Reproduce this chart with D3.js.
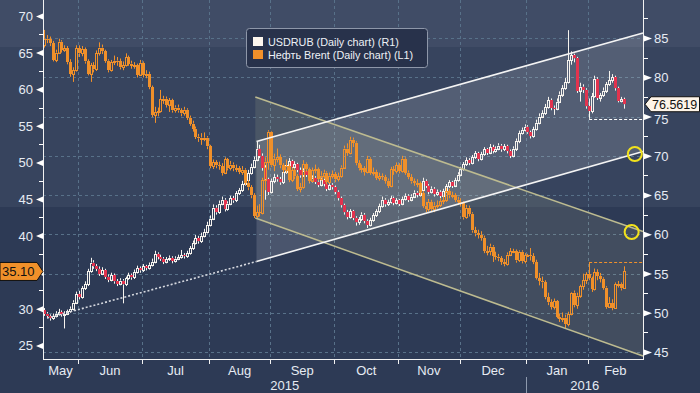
<!DOCTYPE html>
<html>
<head>
<meta charset="utf-8">
<script src="https://cdn.jsdelivr.net/npm/d3@7/dist/d3.min.js"></script>
<style>
  html, body { margin: 0; padding: 0; background: #2d3a55; }
  svg { display: block; font-family: "Liberation Sans", Arial, sans-serif; }
</style>
</head>
<body>
<svg id="chart" width="700" height="393"></svg>
<script>
// ---- data: daily candles, open = previous close ----
const brentFirstOpen = 66.0;
const brentClose = [
  66.9, 66.8, 66.3, 64.0, 65.0, 66.5, 65.4, 65.6, 63.7, 62.1,
  62.6, 65.6, 64.9, 65.5, 63.8, 62.1, 63.3, 62.7, 64.9, 65.7,
  65.2, 63.9, 62.6, 63.7, 63.9, 63.8, 63.0, 63.3, 64.4, 63.5,
  63.2, 63.3, 62.0, 63.6, 62.0, 62.1, 60.3, 56.5, 56.9, 57.0,
  58.6, 58.7, 57.9, 58.5, 57.1, 57.5, 57.1, 56.7, 57.2, 56.1,
  55.3, 54.6, 53.5, 53.3, 53.4, 53.4, 52.2, 49.5, 50.0, 49.6,
  49.5, 48.6, 50.4, 49.2, 49.7, 49.2, 49.2, 48.7, 49.0, 47.2,
  46.6, 45.5, 42.7, 43.2, 43.1, 47.6, 50.1, 54.2, 49.6, 50.5,
  50.7, 49.6, 49.0, 49.5, 47.6, 48.9, 48.1, 46.4, 46.6, 49.8,
  49.1, 47.5, 48.9, 49.1, 47.8, 48.2, 48.6, 47.3, 48.2, 48.4,
  47.7, 48.1, 49.3, 51.9, 51.3, 53.1, 52.7, 49.9, 49.2, 49.2,
  48.7, 50.5, 48.6, 48.7, 47.9, 48.1, 48.0, 47.5, 46.8, 49.1,
  48.8, 49.6, 48.8, 50.5, 48.6, 48.0, 47.4, 47.2, 47.2, 45.8,
  44.1, 43.6, 44.6, 43.6, 44.1, 44.2, 44.7, 44.8, 46.1, 45.5,
  45.5, 44.9, 44.6, 44.4, 42.5, 43.8, 43.0, 40.7, 40.3, 40.1,
  39.7, 37.9, 37.9, 38.5, 37.2, 37.1, 36.9, 36.4, 36.1, 37.4,
  37.9, 37.9, 36.6, 37.8, 36.5, 37.3, 37.3, 37.2, 36.4, 34.2,
  33.8, 33.6, 31.6, 30.9, 30.3, 31.0, 28.9, 28.6, 28.8, 27.9,
  29.3, 32.2, 30.5, 31.8, 33.1, 33.9, 34.7, 34.2, 32.7, 35.0,
  34.5, 34.1, 32.9, 30.3, 30.8, 30.1, 33.4, 33.4, 32.8, 35.1
];
const brentHigh = [
  68.1, 67.4, 67.2, 66.6, 65.4, 66.9, 66.7, 66.0, 65.9, 64.1,
  63.0, 66.0, 66.0, 65.9, 65.7, 64.1, 63.6, 63.7, 65.3, 66.4,
  66.1, 65.4, 64.1, 64.0, 64.6, 64.4, 64.2, 63.8, 64.9, 64.6,
  63.9, 63.7, 63.5, 64.0, 63.8, 62.6, 62.4, 60.5, 57.6, 57.5,
  59.9, 59.1, 59.0, 58.8, 58.7, 57.8, 57.9, 57.4, 57.6, 57.4,
  56.4, 55.7, 54.9, 53.9, 54.0, 54.1, 53.6, 52.4, 50.4, 50.3,
  50.1, 49.9, 50.7, 50.6, 50.2, 50.0, 49.7, 49.5, 49.5, 49.2,
  47.6, 46.9, 45.8, 44.1, 44.3, 47.9, 50.7, 54.4, 54.3, 51.2,
  51.9, 51.1, 49.9, 50.4, 49.8, 49.3, 49.2, 48.4, 47.2, 50.3,
  50.0, 49.3, 49.3, 49.7, 49.3, 48.8, 49.0, 48.8, 48.6, 48.9,
  48.7, 48.6, 49.6, 52.3, 52.6, 53.5, 53.4, 52.9, 50.3, 49.7,
  49.5, 50.9, 50.7, 49.3, 49.0, 48.6, 48.5, 48.3, 47.8, 49.4,
  49.5, 50.0, 49.9, 50.9, 50.7, 48.9, 48.4, 47.8, 47.7, 47.4,
  46.1, 44.6, 45.0, 44.9, 44.6, 44.8, 45.1, 45.4, 46.5, 46.4,
  46.0, 45.8, 45.3, 45.1, 44.7, 44.2, 44.1, 43.2, 41.2, 40.8,
  40.6, 40.0, 38.6, 38.9, 38.7, 37.8, 37.5, 37.2, 36.8, 37.7,
  38.3, 38.2, 38.1, 38.0, 38.0, 37.6, 37.5, 38.3, 37.6, 36.7,
  34.9, 34.4, 33.9, 32.2, 31.3, 31.4, 31.2, 29.3, 29.5, 29.2,
  29.6, 32.3, 32.5, 32.2, 33.3, 34.8, 35.0, 36.4, 34.4, 35.5,
  35.4, 34.9, 34.3, 33.1, 31.6, 31.3, 33.6, 33.8, 33.6, 35.8
];
const brentLow = [
  65.7, 66.3, 65.9, 63.8, 63.7, 64.8, 65.0, 65.1, 63.4, 61.7,
  61.0, 62.4, 64.4, 64.5, 63.5, 61.9, 61.0, 62.3, 62.5, 64.6,
  64.8, 63.6, 62.3, 62.4, 63.3, 63.2, 62.7, 62.6, 63.1, 63.2,
  62.8, 62.8, 61.6, 61.8, 61.6, 61.5, 60.0, 56.2, 55.4, 56.3,
  56.8, 58.0, 57.5, 56.9, 56.8, 56.8, 56.8, 56.3, 56.4, 55.8,
  55.0, 54.2, 53.2, 52.8, 52.4, 52.9, 51.8, 49.2, 49.1, 49.2,
  49.0, 48.2, 48.4, 48.9, 48.9, 48.8, 48.7, 48.4, 48.3, 46.9,
  46.2, 45.1, 42.4, 42.3, 42.6, 42.9, 46.2, 49.0, 49.4, 48.8,
  50.0, 49.2, 48.6, 48.6, 47.3, 47.3, 47.7, 46.1, 45.9, 46.4,
  48.7, 47.2, 47.3, 48.5, 47.5, 47.5, 47.8, 47.0, 47.1, 47.8,
  47.3, 47.4, 47.9, 49.1, 50.9, 51.1, 52.1, 49.6, 48.9, 48.6,
  48.2, 48.5, 48.3, 48.2, 47.6, 47.5, 47.6, 47.1, 46.5, 46.6,
  48.3, 48.5, 48.5, 48.6, 48.3, 47.7, 47.1, 46.8, 46.6, 45.5,
  43.8, 43.2, 43.3, 43.3, 43.2, 43.7, 43.9, 44.3, 44.6, 45.1,
  45.1, 44.6, 44.2, 44.0, 42.2, 42.3, 42.6, 40.4, 39.9, 39.6,
  39.3, 37.6, 37.3, 37.3, 36.4, 36.7, 36.5, 36.0, 35.8, 35.9,
  37.2, 37.6, 36.3, 36.4, 36.2, 36.2, 37.1, 36.6, 36.1, 34.0,
  33.2, 32.8, 31.3, 30.5, 29.9, 29.9, 28.7, 28.2, 28.2, 27.3,
  27.6, 29.1, 30.2, 30.0, 31.5, 32.6, 33.4, 33.9, 32.3, 32.5,
  33.9, 33.6, 32.6, 30.0, 30.1, 29.8, 30.0, 32.9, 32.5, 32.7
];

const rubFirstOpen = 50.3;
const rubClose = [
  49.9, 49.6, 49.3, 49.6, 49.9, 50.1, 49.8, 49.9, 50.2, 50.5,
  51.3, 52.4, 52.0, 53.1, 53.6, 55.3, 56.4, 55.9, 55.6, 55.0,
  55.4, 54.6, 54.2, 54.8, 54.0, 53.7, 54.1, 53.6, 54.4, 54.8,
  54.5, 55.2, 55.7, 55.4, 55.9, 55.7, 56.1, 56.5, 57.5, 57.1,
  56.9, 56.5, 56.8, 57.0, 56.6, 56.9, 57.1, 57.3, 57.2, 57.6,
  58.2, 58.9, 59.5, 59.1, 59.8, 60.3, 61.2, 62.0, 63.4, 62.8,
  63.9, 64.4, 63.2, 63.9, 64.6, 64.3, 65.2, 65.6, 66.4, 66.9,
  67.8, 68.6, 69.5, 70.9, 70.0, 68.5, 67.0, 65.4, 66.8, 67.3,
  67.0, 66.6, 67.9, 68.8, 69.3, 68.6, 68.9, 68.2, 67.5, 68.1,
  67.6, 66.8, 67.2, 66.7, 66.3, 66.9, 66.4, 65.8, 66.3, 66.0,
  65.4, 64.6, 63.7, 62.8, 62.2, 62.9, 62.1, 61.5, 61.9, 62.5,
  61.7, 61.2, 61.8, 62.4, 62.9, 63.6, 64.4, 63.8, 64.1, 64.6,
  64.0, 64.3, 63.9, 64.5, 64.9, 64.4, 64.8, 65.3, 65.0, 65.6,
  66.8, 66.2, 65.4, 65.8, 65.1, 65.4, 64.9, 65.5, 66.1, 66.6,
  66.2, 66.9, 67.6, 68.3, 68.9, 69.4, 69.1, 69.8, 70.3, 69.6,
  70.2, 70.8, 70.4, 71.1, 70.6, 70.9, 71.3, 70.8, 71.2, 70.6,
  70.0, 70.9, 71.9, 72.9, 73.3, 73.7, 73.0, 72.5, 73.4, 74.2,
  75.0, 75.4, 76.2, 77.1, 76.1, 76.0, 76.9, 77.8, 78.6, 79.4,
  82.2, 82.8, 82.4, 78.3, 78.8, 78.4, 76.3, 75.7, 77.6, 79.8,
  77.4, 77.7, 78.3, 79.1, 79.6, 80.0, 78.6, 77.0, 77.2, 76.5619
];
const rubHigh = [
  50.6, 50.1, 49.8, 49.9, 50.2, 50.5, 50.3, 50.2, 50.4, 50.8,
  51.6, 52.7, 52.8, 53.4, 54.0, 55.6, 57.0, 56.7, 56.2, 55.9,
  55.8, 55.6, 54.9, 55.1, 55.0, 54.3, 54.4, 54.3, 54.6, 55.1,
  55.0, 55.5, 56.0, 55.9, 56.2, 56.1, 56.4, 56.9, 57.9, 57.7,
  57.4, 57.1, 57.1, 57.3, 57.2, 57.2, 57.4, 58.0, 57.6, 57.9,
  58.5, 59.2, 59.9, 59.8, 60.2, 60.7, 61.6, 62.4, 63.8, 63.7,
  64.3, 64.8, 64.6, 64.2, 64.9, 64.9, 65.5, 65.9, 66.8, 67.3,
  68.2, 69.0, 69.9, 71.8, 71.4, 70.3, 68.8, 67.2, 67.1, 67.7,
  67.6, 67.3, 68.3, 69.3, 69.7, 69.5, 69.3, 69.1, 68.5, 68.4,
  68.3, 67.8, 67.5, 67.4, 67.0, 67.2, 67.1, 66.6, 66.6, 66.5,
  66.2, 65.6, 64.8, 63.9, 63.1, 63.2, 63.1, 62.3, 62.2, 62.8,
  62.7, 61.9, 62.1, 62.7, 63.2, 63.9, 64.8, 64.6, 64.4, 64.9,
  64.8, 64.6, 64.5, 64.8, 65.2, 65.1, 65.1, 65.6, 65.5, 65.9,
  67.2, 67.0, 66.4, 66.1, 66.0, 65.7, 65.6, 65.8, 66.4, 66.9,
  66.8, 67.2, 67.9, 68.6, 69.2, 69.8, 69.7, 70.1, 70.6, 70.5,
  70.5, 71.1, 71.0, 71.5, 71.4, 71.2, 71.6, 71.5, 71.5, 71.4,
  70.8, 71.2, 72.2, 73.2, 73.6, 74.0, 73.9, 73.2, 73.7, 74.6,
  75.4, 75.8, 76.6, 77.5, 77.3, 76.4, 77.3, 78.2, 79.0, 79.9,
  86.0, 83.3, 83.0, 82.6, 79.3, 79.1, 78.6, 77.3, 78.0, 80.2,
  80.0, 78.0, 78.7, 79.4, 80.8, 80.4, 80.2, 78.8, 77.5, 77.4
];
const rubLow = [
  49.6, 49.3, 49.0, 49.1, 49.4, 49.7, 49.5, 48.0, 49.7, 50.0,
  50.3, 51.1, 51.7, 51.8, 52.9, 53.4, 55.1, 55.6, 55.3, 54.7,
  54.8, 54.3, 53.9, 54.0, 53.7, 53.4, 53.5, 51.2, 53.4, 54.2,
  54.2, 54.3, 55.0, 55.1, 55.2, 55.4, 55.5, 55.9, 56.3, 56.8,
  56.6, 56.2, 56.3, 56.6, 56.3, 56.4, 56.7, 56.9, 56.9, 57.0,
  57.4, 58.0, 58.7, 58.8, 58.9, 59.6, 60.1, 61.0, 61.8, 62.5,
  62.6, 63.7, 62.9, 63.0, 63.7, 64.0, 64.1, 65.0, 65.4, 66.2,
  66.7, 67.6, 68.4, 69.3, 69.7, 68.1, 64.4, 65.0, 65.2, 66.5,
  66.7, 66.3, 66.4, 67.7, 68.5, 68.3, 68.3, 67.9, 67.2, 67.3,
  67.3, 66.5, 66.6, 66.4, 66.0, 66.1, 66.1, 65.5, 65.6, 65.7,
  65.1, 64.3, 63.4, 62.5, 61.9, 62.0, 61.8, 61.1, 61.2, 61.7,
  61.4, 60.8, 61.0, 61.6, 62.2, 62.7, 63.4, 63.5, 63.6, 63.9,
  63.7, 63.8, 63.6, 63.7, 64.3, 64.1, 64.2, 64.6, 64.7, 64.8,
  65.4, 65.9, 65.1, 65.2, 64.8, 64.9, 64.6, 64.7, 65.3, 65.9,
  65.9, 66.0, 66.7, 67.4, 68.1, 68.7, 68.8, 68.9, 69.6, 69.3,
  69.4, 70.0, 70.1, 70.2, 70.3, 70.4, 70.7, 70.5, 70.6, 70.3,
  69.7, 69.8, 70.6, 71.6, 72.7, 73.1, 72.8, 72.2, 72.3, 73.2,
  74.0, 74.8, 75.2, 76.0, 75.8, 75.2, 75.8, 76.7, 77.5, 78.4,
  79.2, 81.6, 81.9, 78.0, 76.9, 78.0, 76.0, 74.7, 75.4, 77.4,
  77.1, 76.9, 77.5, 78.0, 78.9, 79.3, 78.3, 76.8, 76.8, 76.0
];

// axis ticks
const leftTicks = [25, 30, 35, 40, 45, 50, 55, 60, 65, 70];
const rightTicks = [45, 50, 55, 60, 65, 70, 75, 80, 85];
const monthNames = ["Jan", "Feb", "Mar", "Apr", "May", "Jun", "Jul", "Aug", "Sep", "Oct", "Nov", "Dec"];
const legendItems = ["USDRUB (Daily chart) (R1)", "Нефть Brent (Daily chart) (L1)"];

// drawn annotations, in [trading-day index, USDRUB value]
const upChannelTop = [[73.3, 71.82], [206, 85.64]];
const upChannelBottom = [[73.3, 56.53], [206, 70.54]];
const upChannelExt = [[1.4, 49.33], [73.3, 56.53]];
const downChannelTop = [[72.9, 77.48], [206, 60.35]];
const downChannelBottom = [[72.9, 62.07], [206, 44.49]];
const circleMarks = [[203.2, 70.22], [202.1, 60.29]];
const supportDay = 187;

// ---- layout ----
const svg = d3.select("#chart");
const plot = { left: 43, right: 643, top: 0, bottom: 359 };
const textColor = "#e6ebf3";
const gridColor = "#587189";
const orange = "#f0902a";
const red = "#e2334e";

const days = d3.timeDay.range(new Date(2015, 4, 14), new Date(2016, 1, 26))
  .filter(d => d.getDay() !== 0 && d.getDay() !== 6);

const x = d3.scaleBand().domain(days).range([plot.left, plot.right]);
const xi = d3.scaleLinear().domain([0, days.length]).range([plot.left, plot.right]);
const yL = d3.scaleLinear().domain([23.14, 72.19]).range([plot.bottom, plot.top]);
const yR = d3.scaleLinear().domain([44.11, 89.84]).range([plot.bottom, plot.top]);

const rubLast = rubClose[rubClose.length - 1];
const brentLast = brentClose[brentClose.length - 1];

// background bands
[[0, 47, "#404c66"], [47, 207, "#37445e"], [207, 393, "#2d3a55"]].forEach(b => {
  svg.append("rect").attr("x", 0).attr("y", b[0]).attr("width", 700).attr("height", b[1] - b[0]).attr("fill", b[2]);
});

// gridlines
const monthStarts = days.filter((d, i) => i > 0 && d.getMonth() !== days[i - 1].getMonth());
const grid = svg.append("g").attr("stroke", gridColor).attr("stroke-dasharray", "3,3").attr("stroke-width", 1);
grid.selectAll("line.h").data(rightTicks).enter().append("line")
  .attr("x1", plot.left).attr("x2", plot.right)
  .attr("y1", d => Math.round(yR(d)) + 0.5).attr("y2", d => Math.round(yR(d)) + 0.5);
grid.selectAll("line.v").data(monthStarts).enter().append("line")
  .attr("y1", plot.top).attr("y2", plot.bottom)
  .attr("x1", d => Math.round(x(d)) + 0.5).attr("x2", d => Math.round(x(d)) + 0.5);

// channel shading
const pt = p => [xi(p[0]), yR(p[1])];
const poly = (a, b) => [pt(a[0]), pt(a[1]), pt(b[1]), pt(b[0])].map(p => p.join(",")).join(" ");
svg.append("polygon").attr("points", poly(downChannelTop, downChannelBottom))
  .attr("fill", "#d2cda2").attr("fill-opacity", 0.13);
svg.append("polygon").attr("points", poly(upChannelTop, upChannelBottom))
  .attr("fill", "#ffffff").attr("fill-opacity", 0.14);

// candles
function candles(close, high, low, firstOpen, y, upColor, downColor, wickColor) {
  const g = svg.append("g");
  const data = close.map((c, i) => ({ d: days[i], o: i ? close[i - 1] : firstOpen, h: high[i], l: low[i], c }));
  data.forEach(k => {
    const n = Math.floor(x(k.d) + x.bandwidth() / 2);
    const top = y(Math.max(k.o, k.c)), bot = y(Math.min(k.o, k.c));
    g.append("line").attr("x1", n + 0.5).attr("x2", n + 0.5).attr("y1", y(k.h)).attr("y2", top)
      .attr("stroke", wickColor).attr("stroke-width", 1);
    g.append("line").attr("x1", n + 0.5).attr("x2", n + 0.5).attr("y1", bot).attr("y2", y(k.l))
      .attr("stroke", wickColor).attr("stroke-width", 1);
    if (k.c >= k.o) {
      const t = Math.round(top) + 0.5;
      g.append("rect").attr("x", n - 0.5).attr("y", t).attr("width", 2)
        .attr("height", Math.max(1, Math.round(bot) - Math.round(top)))
        .attr("fill", "none").attr("stroke", upColor).attr("stroke-width", 1)
        .attr("shape-rendering", "crispEdges");
    } else {
      g.append("rect").attr("x", n - 1).attr("y", Math.round(top)).attr("width", 3)
        .attr("height", Math.max(1, Math.round(bot) - Math.round(top)))
        .attr("fill", downColor).attr("shape-rendering", "crispEdges");
    }
  });
}
candles(rubClose, rubHigh, rubLow, rubFirstOpen, yR, "#f6f3ee", red, "#f6f3ee");
candles(brentClose, brentHigh, brentLow, brentFirstOpen, yL, orange, orange, orange);

// channel lines
const line = d3.line().x(p => xi(p[0])).y(p => yR(p[1]));
svg.append("path").attr("d", line(downChannelTop)).attr("stroke", "#bdbb90").attr("stroke-width", 1.5).attr("fill", "none");
svg.append("path").attr("d", line(downChannelBottom)).attr("stroke", "#bdbb90").attr("stroke-width", 1.5).attr("fill", "none");
svg.append("path").attr("d", line(upChannelTop)).attr("stroke", "#f4f4f4").attr("stroke-width", 1.6).attr("fill", "none");
svg.append("path").attr("d", line(upChannelBottom)).attr("stroke", "#f4f4f4").attr("stroke-width", 1.6).attr("fill", "none");
svg.append("path").attr("d", line(upChannelExt)).attr("stroke", "#d6d9e0").attr("stroke-width", 1.6)
  .attr("stroke-dasharray", "2,2").attr("fill", "none");

// support / resistance dashes
const sx = x(days[supportDay]) + x.bandwidth() / 2;
svg.append("line").attr("x1", sx).attr("x2", plot.right)
  .attr("y1", Math.round(yR(rubLow[supportDay])) + 0.5).attr("y2", Math.round(yR(rubLow[supportDay])) + 0.5)
  .attr("stroke", "#ffffff").attr("stroke-width", 1.2).attr("stroke-dasharray", "3,2");
svg.append("line").attr("x1", sx).attr("x2", plot.right)
  .attr("y1", Math.round(yL(brentHigh[supportDay])) + 0.5).attr("y2", Math.round(yL(brentHigh[supportDay])) + 0.5)
  .attr("stroke", orange).attr("stroke-width", 1.2).attr("stroke-dasharray", "3,2");

// circles
svg.selectAll("circle.mark").data(circleMarks).enter().append("circle")
  .attr("cx", d => xi(d[0])).attr("cy", d => yR(d[1])).attr("r", 7)
  .attr("fill", "none").attr("stroke", "#f2e21c").attr("stroke-width", 2);

// axes lines
const axes = svg.append("g").attr("stroke", "#f2f2f2").attr("stroke-width", 1);
axes.append("line").attr("x1", plot.left + 0.5).attr("x2", plot.left + 0.5).attr("y1", 0).attr("y2", plot.bottom + 0.5);
axes.append("line").attr("x1", plot.right + 0.5).attr("x2", plot.right + 0.5).attr("y1", 0).attr("y2", plot.bottom + 0.5);
axes.append("line").attr("x1", plot.left).attr("x2", plot.right + 1).attr("y1", plot.bottom + 0.5).attr("y2", plot.bottom + 0.5);

// left axis (label under the last-value flag is hidden, as in the original)
const leftAxis = svg.append("g").attr("transform", `translate(${plot.left},0)`)
  .call(d3.axisLeft(yL).tickValues(leftTicks).tickSize(0).tickPadding(10));
leftAxis.select(".domain").remove();
leftAxis.selectAll("text").attr("fill", textColor).style("font-size", "13px").attr("dy", "0.35em");
leftAxis.selectAll(".tick").filter(d => Math.abs(yL(d) - yL(brentLast)) < 12).select("text").remove();
leftAxis.selectAll(".tick").append("path").attr("d", "M0,-3L0,3L-7,0Z").attr("fill", "#ffffff");
const leftMinor = d3.range(22.5, 73, 5).filter(v => yL(v) >= 0 && yL(v) <= plot.bottom);
leftAxis.selectAll("line.minor").data(leftMinor).enter().append("line")
  .attr("x1", -4).attr("x2", 0).attr("y1", d => Math.round(yL(d)) + 0.5).attr("y2", d => Math.round(yL(d)) + 0.5)
  .attr("stroke", "#ffffff");

// right axis
const rightAxis = svg.append("g").attr("transform", `translate(${plot.right + 1},0)`)
  .call(d3.axisRight(yR).tickValues(rightTicks).tickSize(0).tickPadding(10));
rightAxis.select(".domain").remove();
rightAxis.selectAll("text").attr("fill", textColor).style("font-size", "13px").attr("dy", "0.35em");
rightAxis.selectAll(".tick").filter(d => Math.abs(yR(d) - yR(rubLast)) < 13).select("text")
  .attr("dy", "0.5em");
rightAxis.selectAll(".tick").append("path").attr("d", "M0,-3L0,3L8,0Z").attr("fill", "#ffffff");
const rightMinor = d3.range(47.5, 90, 5).filter(v => yR(v) >= 0 && yR(v) <= plot.bottom);
rightAxis.selectAll("line.minor").data(rightMinor).enter().append("line")
  .attr("x1", 0).attr("x2", 4).attr("y1", d => Math.round(yR(d)) + 0.5).attr("y2", d => Math.round(yR(d)) + 0.5)
  .attr("stroke", "#ffffff");

// bottom axis: month ticks + labels
svg.selectAll("line.mtick").data(monthStarts).enter().append("line")
  .attr("x1", d => Math.round(x(d)) + 0.5).attr("x2", d => Math.round(x(d)) + 0.5)
  .attr("y1", plot.bottom).attr("y2", plot.bottom + 5).attr("stroke", "#f2f2f2");
const months = d3.groups(days, d => d.getFullYear() * 12 + d.getMonth());
months.forEach(([key, ds]) => {
  const x0 = x(ds[0]), x1 = x(ds[ds.length - 1]) + x.bandwidth();
  const t = svg.append("text").attr("y", 375).attr("fill", textColor).style("font-size", "13px")
    .attr("text-anchor", "middle").text(monthNames[ds[0].getMonth()]);
  const w = t.node().getComputedTextLength();
  let cx = (x0 + x1) / 2;
  if (cx - w / 2 < plot.left) cx = plot.left + w / 2;
  t.attr("x", cx);
});
const years = d3.groups(days, d => d.getFullYear());
years.forEach(([yr, ds]) => {
  const x0 = x(ds[0]), x1 = x(ds[ds.length - 1]) + x.bandwidth();
  svg.append("text").attr("x", (x0 + x1) / 2).attr("y", 390).attr("fill", textColor)
    .style("font-size", "13px").attr("text-anchor", "middle").text(yr);
});
years.slice(1).forEach(([yr, ds]) => {
  const xs = Math.round(x(ds[0])) + 0.5;
  svg.append("line").attr("x1", xs).attr("x2", xs).attr("y1", 377).attr("y2", 393).attr("stroke", "#8d99ad");
});

// last value labels
const ry = yR(rubLast);
svg.append("path").attr("d", `M645,${ry}L651,${ry - 7.5}L699.5,${ry - 7.5}L699.5,${ry + 7.5}L651,${ry + 7.5}Z`)
  .attr("fill", "#fdf4e8").attr("stroke", "#111").attr("stroke-width", 1);
svg.append("text").attr("x", 652).attr("y", ry).attr("dy", "0.36em").style("font-size", "12.5px")
  .attr("fill", "#111").text(d3.format(".4f")(rubLast));

const by = yL(brentLast);
svg.append("path").attr("d", `M0,${by - 9}L37,${by - 9}L43,${by}L37,${by + 9}L0,${by + 9}Z`)
  .attr("fill", orange).attr("stroke", "#111").attr("stroke-width", 1);
svg.append("text").attr("x", 2).attr("y", by).attr("dy", "0.36em").style("font-size", "13px")
  .attr("fill", "#111").text(d3.format(".2f")(brentLast));

// legend
const lg = svg.append("g").attr("transform", "translate(246,28)");
lg.append("rect").attr("x", 0.5).attr("y", 0.5).attr("width", 181).attr("height", 39).attr("rx", 3)
  .attr("fill", "#28324b").attr("stroke", "#8e97a9");
legendItems.forEach((txt, i) => {
  lg.append("rect").attr("x", 7).attr("y", 9 + i * 13).attr("width", 10).attr("height", 9)
    .attr("fill", i === 0 ? "#fdf6ee" : orange);
  lg.append("text").attr("x", 22).attr("y", 18 + i * 13).attr("fill", "#eef1f6")
    .style("font-size", "10.8px").text(txt);
});
</script>
</body>
</html>
